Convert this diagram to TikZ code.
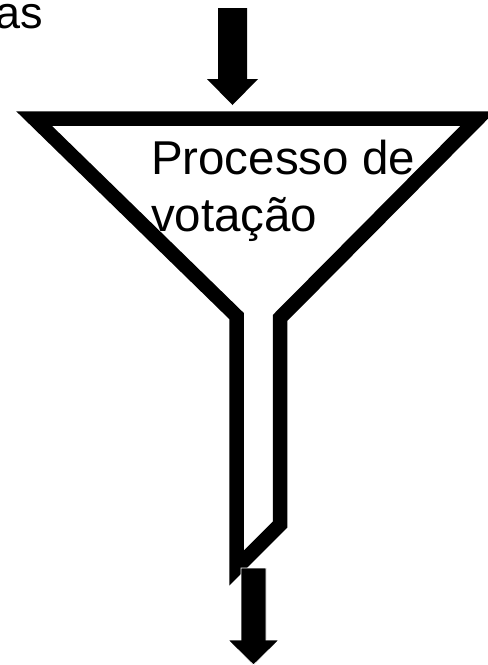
\documentclass[tikz,border=0pt]{standalone}
\usepackage{fontspec}
\setmainfont{Liberation Sans}
\begin{document}
\begin{tikzpicture}[x=1pt,y=-1pt,
  funnel/.style={draw=black,line width=14.5pt,line join=miter,miter limit=10},
  blockarrow/.style={fill=black,draw=white,line width=0.8pt},
  lbl/.style={inner sep=0pt,outer sep=0pt,align=left}]
\useasboundingbox (0,0) rectangle (488,665);
\fill[white] (0,0) rectangle (488,665);
% funnel outline
\coordinate (tl) at (34,118.5);
\coordinate (tr) at (478,118.5);
\coordinate (nr) at (280,318);
\coordinate (br) at (280,524.5);
\coordinate (bl) at (236.5,568);
\coordinate (nl) at (236.5,316);
\draw[funnel] (tl) -- (tr) -- (nr) -- (br) -- (bl) -- (nl) -- cycle;
% top arrow
\coordinate (ta) at (232.5,105);
\fill[black] (218,8) -- (247,8) -- (247,79) -- (258,79) -- (ta) -- (207,79) -- (218,79) -- cycle;
% bottom arrow
\coordinate (ba) at (253.5,665);
\path[blockarrow] (241,568) -- (266,568) -- (266,640) -- (279,640) -- (ba) -- (228,640) -- (241,640) -- cycle;
% texts
\node[lbl,anchor=base west,font=\fontsize{47.5}{57}\selectfont] (proc) at (151,231) {Processo de\\votação};
\node[lbl,anchor=base east,font=\fontsize{45}{54}\selectfont] (as) at (43,28) {as};
\end{tikzpicture}
\end{document}
